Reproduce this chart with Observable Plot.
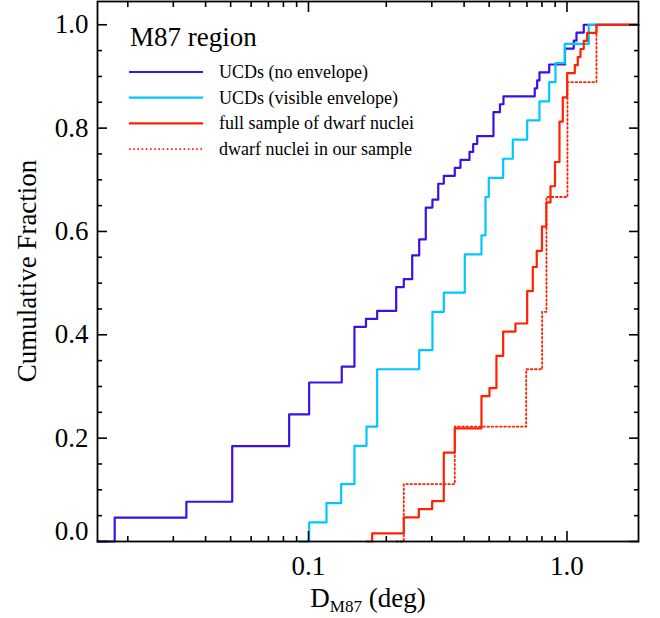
<!DOCTYPE html>
<html>
<head>
<meta charset="utf-8">
<script src="https://cdn.jsdelivr.net/npm/d3@7"></script>
<script src="https://cdn.jsdelivr.net/npm/@observablehq/plot@0.6"></script>
<style>
  html, body { margin: 0; padding: 0; background: #fff; }
  svg { display: block; }
</style>
</head>
<body>
<div id="chart"></div>
<script>
// ---- axis extents & ticks ----
const xMin = 0.01527, xMax = 1.891;
const yMin = 0, yMax = 1.045;
const xMajor = [0.1, 1.0];
const xMinor = [0.02, 0.03, 0.04, 0.05, 0.06, 0.07, 0.08, 0.09, 0.2, 0.3, 0.4, 0.5, 0.6, 0.7, 0.8, 0.9];
const yMajor = [0, 0.2, 0.4, 0.6, 0.8, 1.0];
const yMinor = [0.05, 0.1, 0.15, 0.25, 0.3, 0.35, 0.45, 0.5, 0.55, 0.65, 0.7, 0.75, 0.85, 0.9, 0.95];

// ---- series (step positions in deg, cumulative counts, sample size) ----
const seriesNames = ["UCDs (no envelope)", "UCDs (visible envelope)", "full sample of dwarf nuclei", "dwarf nuclei in our sample"];
const seriesColors = ["#3a12e4", "#00c8ff", "#ff2200", "#ff2200"];

// UCDs (no envelope), N = 65
const ucdNoEnvN = 65;
const ucdNoEnvStart = 0.01527;
const ucdNoEnvX = [0.0178, 0.0337, 0.0507, 0.0842, 0.1006, 0.1345, 0.1506, 0.1669, 0.1844, 0.2184, 0.2337,
  0.2519, 0.2681, 0.2843, 0.3017, 0.3177, 0.3338, 0.3681, 0.3873, 0.4196, 0.4337, 0.4494, 0.5196, 0.5505,
  0.5679, 0.7505, 0.7668, 0.7827, 0.8536, 0.9823, 1.0625, 1.0884, 1.1614];
const ucdNoEnvCount = [3, 5, 12, 16, 20, 22, 27, 28, 29, 32, 33, 36, 38, 42, 43, 45, 46, 47, 48, 49, 50, 51,
  54, 55, 56, 57, 58, 59, 60, 62, 63, 64, 65];

// UCDs (visible envelope), N = 27
const ucdEnvN = 27;
const ucdEnvStart = 0.0925;
const ucdEnvX = [0.1006, 0.1174, 0.1338, 0.1506, 0.1677, 0.1844, 0.2681, 0.3017, 0.3338, 0.4024, 0.4669,
  0.4839, 0.4983, 0.5664, 0.6171, 0.7015, 0.7827, 0.8536, 0.9027, 0.9806, 1.2142];
const ucdEnvCount = [1, 2, 3, 5, 6, 9, 10, 12, 13, 15, 16, 18, 19, 20, 21, 22, 23, 24, 25, 26, 27];

// full sample of dwarf nuclei, N = 64
const dwarfAllN = 64;
const dwarfAllStart = 0.1677;
const dwarfAllX = [0.1764, 0.2337, 0.2672, 0.3009, 0.3338, 0.3681, 0.4669, 0.5014, 0.5336, 0.5664, 0.6321,
  0.7015, 0.7374, 0.7640, 0.8003, 0.8319, 0.8634, 0.8987, 0.9354, 0.9633, 1.0018, 1.0719, 1.1010, 1.1278,
  1.1614, 1.1969, 1.3005];
const dwarfAllCount = [1, 3, 4, 5, 11, 14, 18, 19, 23, 26, 27, 31, 34, 36, 39, 42, 44, 47, 52, 55, 58, 59,
  60, 61, 62, 63, 64];

// dwarf nuclei in our sample, N = 9
const dwarfOursN = 9;
const dwarfOursStart = 0.2190;
const dwarfOursX = [0.2337, 0.3681, 0.6954, 0.8015, 0.8330, 1.0045, 1.3005];
const dwarfOursCount = [1, 2, 3, 4, 6, 8, 9];

function ecdfRows(name, start, xs, counts, n) {
  const rows = [{series: name, x: start, y: 0}];
  xs.forEach((x, i) => rows.push({series: name, x, y: counts[i] / n}));
  rows.push({series: name, x: xMax, y: 1});
  return rows;
}
const rowsNoEnv = ecdfRows(seriesNames[0], ucdNoEnvStart, ucdNoEnvX, ucdNoEnvCount, ucdNoEnvN);
const rowsEnv = ecdfRows(seriesNames[1], ucdEnvStart, ucdEnvX, ucdEnvCount, ucdEnvN);
const rowsAll = ecdfRows(seriesNames[2], dwarfAllStart, dwarfAllX, dwarfAllCount, dwarfAllN);
const rowsOurs = ecdfRows(seriesNames[3], dwarfOursStart, dwarfOursX, dwarfOursCount, dwarfOursN);

const fmt = d3.format(".1f");
const blank = () => "";
const FONT = "'Liberation Serif', 'DejaVu Serif', serif";
const DOTS = "1.6,2.6";

const chart = Plot.plot({
  width: 660,
  height: 618,
  marginLeft: 97,
  marginRight: 22,
  marginTop: 1,
  marginBottom: 77,
  x: {type: "log", domain: [xMin, xMax]},
  y: {domain: [yMin, yMax]},
  style: {fontFamily: FONT, background: "#fff", color: "#000"},
  marks: [
    Plot.line(rowsNoEnv, {x: "x", y: "y", curve: "step-after", stroke: seriesColors[0], strokeWidth: 2.2}),
    Plot.line(rowsEnv, {x: "x", y: "y", curve: "step-after", stroke: seriesColors[1], strokeWidth: 2.2}),
    Plot.line(rowsOurs, {x: "x", y: "y", curve: "step-after", stroke: seriesColors[3], strokeWidth: 1.8, strokeDasharray: DOTS}),
    Plot.line(rowsAll, {x: "x", y: "y", curve: "step-after", stroke: seriesColors[2], strokeWidth: 2.2}),
    // inward ticks on all four sides
    Plot.axisX(xMajor, {anchor: "bottom", tickSize: -10, tickFormat: blank, label: null, strokeWidth: 1.6}),
    Plot.axisX(xMinor, {anchor: "bottom", tickSize: -5, tickFormat: blank, label: null, strokeWidth: 1.6}),
    Plot.axisX(xMajor, {anchor: "top", tickSize: -10, tickFormat: blank, label: null, strokeWidth: 1.6}),
    Plot.axisX(xMinor, {anchor: "top", tickSize: -5, tickFormat: blank, label: null, strokeWidth: 1.6}),
    Plot.axisY(yMajor, {anchor: "left", tickSize: -10, tickFormat: blank, label: null, strokeWidth: 1.6}),
    Plot.axisY(yMinor, {anchor: "left", tickSize: -5, tickFormat: blank, label: null, strokeWidth: 1.6}),
    Plot.axisY(yMajor, {anchor: "right", tickSize: -10, tickFormat: blank, label: null, strokeWidth: 1.6}),
    Plot.axisY(yMinor, {anchor: "right", tickSize: -5, tickFormat: blank, label: null, strokeWidth: 1.6}),
    // tick labels
    Plot.axisX(xMajor, {anchor: "bottom", tickSize: 0, tickPadding: 14, tickFormat: fmt, label: null, fontSize: 27}),
    Plot.axisY(yMajor.slice(1), {anchor: "left", tickSize: 0, tickPadding: 9, tickFormat: fmt, label: null, fontSize: 27}),
    Plot.axisY([yMajor[0]], {anchor: "left", tickSize: 0, tickPadding: 9, tickFormat: fmt, label: null, fontSize: 27, dy: -10}),
    Plot.frame({stroke: "#000", strokeWidth: 1.8})
  ]
});

document.getElementById("chart").appendChild(chart);

// axis titles, legend
const svg = d3.select(chart);
svg.append("text")
  .attr("transform", "translate(27,271) rotate(-90)")
  .attr("text-anchor", "middle")
  .attr("dy", "0.35em")
  .style("font-family", FONT).style("font-size", "27px").attr("fill", "#000")
  .text("Cumulative Fraction");

const xl = svg.append("text")
  .attr("x", 368).attr("y", 607)
  .attr("text-anchor", "middle")
  .style("font-family", FONT).style("font-size", "27px").attr("fill", "#000");
xl.append("tspan").text("D");
xl.append("tspan").attr("dy", 5).style("font-size", "17px").text("M87");
xl.append("tspan").attr("dy", -5).text(" (deg)");

const lg = svg.append("g").style("font-family", FONT).attr("fill", "#000").attr("text-anchor", "start");
lg.append("text").attr("x", 130).attr("y", 46).attr("text-anchor", "start").style("font-size", "27px").text("M87 region");
const legendDash = [null, null, null, DOTS];
seriesNames.forEach((name, i) => {
  const y = 72 + i * 25.7;
  lg.append("line")
    .attr("x1", 129).attr("x2", 203).attr("y1", y).attr("y2", y)
    .attr("stroke", seriesColors[i])
    .attr("stroke-width", i === 3 ? 1.8 : 2.2)
    .attr("stroke-dasharray", legendDash[i]);
  lg.append("text").attr("x", 219).attr("y", y + 6).attr("text-anchor", "start").style("font-size", "18px").text(name);
});
</script>
</body>
</html>
